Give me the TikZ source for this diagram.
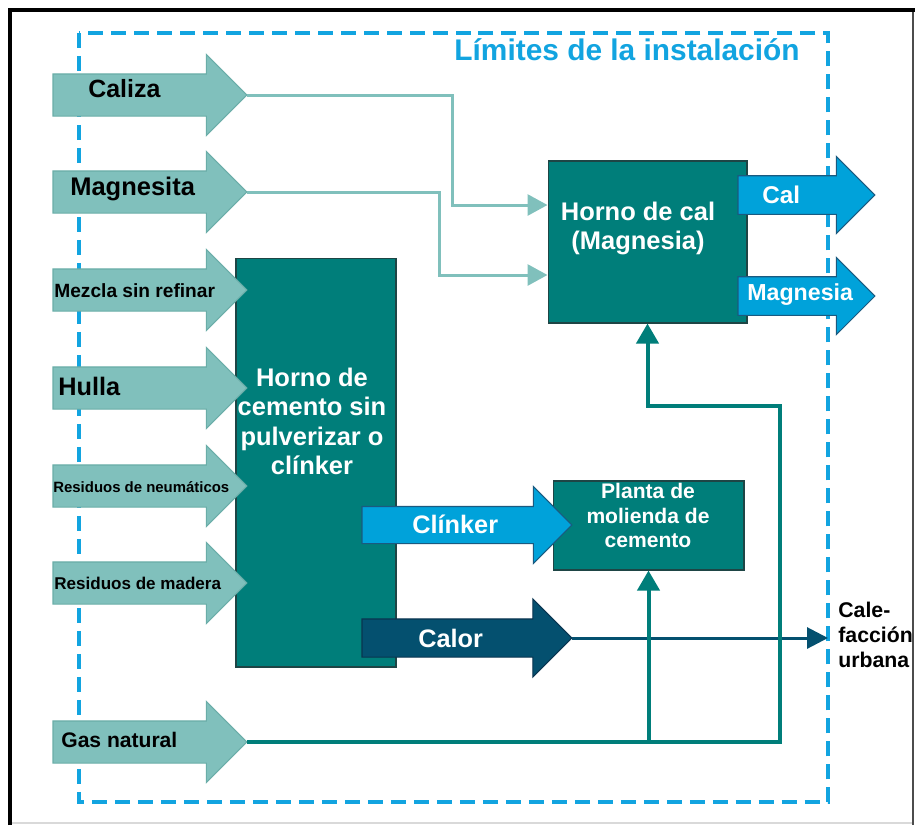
\documentclass[tikz,border=0pt]{standalone}
\usepackage{fontspec}
\setmainfont{Liberation Sans}
\usepackage{tikz}
\usetikzlibrary{arrows.meta,
                calc,
                positioning,
                shapes.arrows}

\definecolor{feedteal}{HTML}{80C0BC}
\definecolor{feededge}{HTML}{6AADA8}
\definecolor{kilnteal}{HTML}{007E7A}
\definecolor{kilnedge}{HTML}{1E4545}
\definecolor{prodblue}{HTML}{00A2DA}
\definecolor{prodedge}{HTML}{1A5A80}
\definecolor{heatblue}{HTML}{04506F}
\definecolor{heatedge}{HTML}{0A3550}
\definecolor{limitblue}{HTML}{12A4E0}

\tikzset{
  feed/.style={single arrow, draw=feededge, fill=feedteal, line width=0.6pt,
    minimum height=3.88cm, minimum width=1.6cm, single arrow head extend=0.39cm,
    inner xsep=0pt, inner ysep=0.41cm, outer sep=0pt, anchor=tail},
  product/.style={single arrow, draw=prodedge, fill=prodblue, line width=0.6pt,
    minimum width=1.52cm, single arrow head extend=0.385cm,
    inner xsep=0pt, inner ysep=0.375cm, outer sep=0pt, anchor=tail},
  heat/.style={product, draw=heatedge, fill=heatblue},
  kiln/.style={draw=kilnedge, fill=kilnteal, line width=0.6pt, inner sep=0pt},
  feedtext/.style={anchor=base west, inner sep=0pt, text=black, font=\bfseries},
  whitetext/.style={inner sep=0pt, text=white, font=\bfseries},
  feedline/.style={draw=feedteal, line width=0.06cm,
    -{Triangle[length=0.4cm,width=0.42cm]}},
  gasline/.style={draw=kilnteal, line width=0.08cm,
    -{Triangle[length=0.4cm,width=0.44cm]}},
  heatline/.style={draw=heatblue, line width=0.06cm,
    -{Triangle[length=0.42cm,width=0.42cm]}}
}

\begin{document}
\begin{tikzpicture}[x=0.02cm,y=-0.02cm]
\useasboundingbox (0,0) rectangle (915,825);

% frame
\draw[black!15, line width=1pt] (10,823) -- (913,823);
\draw[black!70, line width=0.04cm] (913,10) -- (913,825);
\draw[black, line width=0.08cm] (10,825) -- (10,10) -- (915,10);

% plant limits
\draw[limitblue, line width=0.08cm, dash pattern=on 0.3cm off 0.16cm]
  (79,33) rectangle (828,802);
\node[anchor=base east, inner sep=0pt, text=limitblue,
  font=\fontsize{17}{20}\selectfont\bfseries] (limits) at (800,60)
  {Límites de la instalación};

% kilns and mill
\node[kiln, minimum width=3.2cm, minimum height=8.18cm] (hornocem) at (316,462.5) {};
\node[kiln, minimum width=3.98cm, minimum height=3.24cm] (hornocal) at (647.5,242) {};
\node[kiln, minimum width=3.82cm, minimum height=1.78cm] (planta) at (648.5,525.5) {};

\node[whitetext, anchor=north, align=center,
  font=\fontsize{14.5}{16.6}\selectfont\bfseries] (hornocem-t) at (312,368)
  {Horno de\\cemento sin\\pulverizar o\\clínker};
\node[whitetext, anchor=north, align=center,
  font=\fontsize{14.5}{16.5}\selectfont\bfseries] (hornocal-t) at (638,202)
  {Horno de cal\\(Magnesia)};
\node[whitetext, anchor=north, align=center,
  font=\fontsize{12}{13.9}\selectfont\bfseries] (planta-t) at (648,483)
  {Planta de\\molienda de\\cemento};

% raw materials and fuels
\node[feed] (caliza) at (53,95) {};
\node[feed] (magnesita) at (53,192) {};
\node[feed] (mezcla) at (53,290) {};
\node[feed] (hulla) at (53,388) {};
\node[feed] (neumaticos) at (53,486) {};
\node[feed] (madera) at (53,583) {};
\node[feed] (gas) at (53,742) {};

\node[feedtext, font=\fontsize{14.2}{16}\selectfont\bfseries] (caliza-t) at (88,97) {Caliza};
\node[feedtext, font=\fontsize{14.5}{16}\selectfont\bfseries] (magnesita-t) at (70,195) {Magnesita};
\node[feedtext, font=\fontsize{10.9}{12}\selectfont\bfseries] (mezcla-t) at (54,297) {Mezcla sin refinar};
\node[feedtext, font=\fontsize{14.4}{16}\selectfont\bfseries] (hulla-t) at (58,395) {Hulla};
\node[feedtext, font=\fontsize{8.5}{10}\selectfont\bfseries] (neumaticos-t) at (53,492) {Residuos de neumáticos};
\node[feedtext, font=\fontsize{9.7}{11}\selectfont\bfseries] (madera-t) at (54,589) {Residuos de madera};
\node[feedtext, font=\fontsize{12}{14}\selectfont\bfseries] (gas-t) at (61,747) {Gas natural};

% feed lines to the lime kiln
\draw[feedline] (caliza.tip) -- ++(206,0) |- ([yshift=0.74cm]hornocal.west);
\draw[feedline] (magnesita.tip) -- ++(193,0) |- ([yshift=-0.66cm]hornocal.west);

% district heating
\node[anchor=north west, inner xsep=0.2cm, inner ysep=0.1cm, align=left,
  font=\fontsize{12.1}{14.2}\selectfont\bfseries] (calef) at (828,597)
  {Cale-\\facción\\urbana};

% products
\node[product, minimum height=2.74cm] (cal) at (738,195) {};
\node[product, minimum height=2.74cm] (magnesia) at (738,296) {};
\node[product, minimum height=4.2cm, inner ysep=0.36cm, single arrow head extend=0.4cm] (clinker) at (362,525) {};
\node[heat, minimum height=4.2cm, minimum width=1.54cm, inner ysep=0.37cm, single arrow head extend=0.4cm] (calor) at (362,638) {};

\draw[heatline] (calor.tip) -- (calor.tip -| calef.west);

% natural gas
\draw[gasline] (gas.tip) -- ++(533,0) -- ++(0,-336) -| (hornocal.south);
\draw[gasline] (planta.south |- gas.tip) -- (planta.south);

\node[whitetext, anchor=base west, font=\fontsize{13.8}{16}\selectfont\bfseries] (cal-t) at (762,203) {Cal};
\node[whitetext, anchor=base west, font=\fontsize{13.2}{16}\selectfont\bfseries] (magnesia-t) at (747,300) {Magnesia};
\node[whitetext, anchor=base west, font=\fontsize{14.4}{16}\selectfont\bfseries] (clinker-t) at (412,533) {Clínker};
\node[whitetext, anchor=base west, font=\fontsize{14.4}{16}\selectfont\bfseries] (calor-t) at (418,647) {Calor};
\end{tikzpicture}
\end{document}
